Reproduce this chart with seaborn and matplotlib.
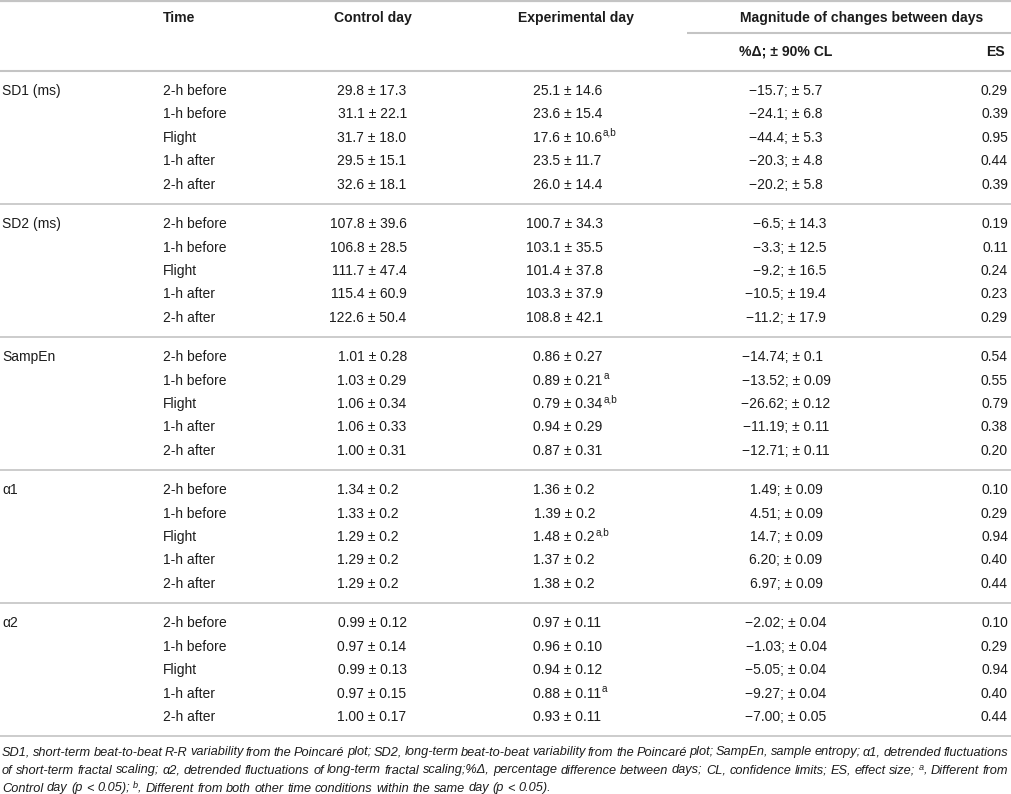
import matplotlib
matplotlib.use("Agg")
import matplotlib.pyplot as plt
import seaborn as sns

# table content
parameters = ["SD1 (ms)", "SD2 (ms)", "SampEn", "α1", "α2"]
times = ["2-h before", "1-h before", "Flight", "1-h after", "2-h after"]

control_day = [
    ["29.8 ± 17.3", "31.1 ± 22.1", "31.7 ± 18.0", "29.5 ± 15.1", "32.6 ± 18.1"],
    ["107.8 ± 39.6", "106.8 ± 28.5", "111.7 ± 47.4", "115.4 ± 60.9", "122.6 ± 50.4"],
    ["1.01 ± 0.28", "1.03 ± 0.29", "1.06 ± 0.34", "1.06 ± 0.33", "1.00 ± 0.31"],
    ["1.34 ± 0.2", "1.33 ± 0.2", "1.29 ± 0.2", "1.29 ± 0.2", "1.29 ± 0.2"],
    ["0.99 ± 0.12", "0.97 ± 0.14", "0.99 ± 0.13", "0.97 ± 0.15", "1.00 ± 0.17"],
]
experimental_day = [
    ["25.1 ± 14.6", "23.6 ± 15.4", "17.6 ± 10.6", "23.5 ± 11.7", "26.0 ± 14.4"],
    ["100.7 ± 34.3", "103.1 ± 35.5", "101.4 ± 37.8", "103.3 ± 37.9", "108.8 ± 42.1"],
    ["0.86 ± 0.27", "0.89 ± 0.21", "0.79 ± 0.34", "0.94 ± 0.29", "0.87 ± 0.31"],
    ["1.36 ± 0.2", "1.39 ± 0.2", "1.48 ± 0.2", "1.37 ± 0.2", "1.38 ± 0.2"],
    ["0.97 ± 0.11", "0.96 ± 0.10", "0.94 ± 0.12", "0.88 ± 0.11", "0.93 ± 0.11"],
]
experimental_marks = [
    ["", "", "a,b", "", ""],
    ["", "", "", "", ""],
    ["", "a", "a,b", "", ""],
    ["", "", "a,b", "", ""],
    ["", "", "", "a", ""],
]
pct_change = [
    ["−15.7", "−24.1", "−44.4", "−20.3", "−20.2"],
    ["−6.5", "−3.3", "−9.2", "−10.5", "−11.2"],
    ["−14.74", "−13.52", "−26.62", "−11.19", "−12.71"],
    ["1.49", "4.51", "14.7", "6.20", "6.97"],
    ["−2.02", "−1.03", "−5.05", "−9.27", "−7.00"],
]
pct_cl = [
    ["5.7", "6.8", "5.3", "4.8", "5.8"],
    ["14.3", "12.5", "16.5", "19.4", "17.9"],
    ["0.1", "0.09", "0.12", "0.11", "0.11"],
    ["0.09", "0.09", "0.09", "0.09", "0.09"],
    ["0.04", "0.04", "0.04", "0.04", "0.05"],
]
effect_size = [
    ["0.29", "0.39", "0.95", "0.44", "0.39"],
    ["0.19", "0.11", "0.24", "0.23", "0.29"],
    ["0.54", "0.55", "0.79", "0.38", "0.20"],
    ["0.10", "0.29", "0.94", "0.40", "0.44"],
    ["0.10", "0.29", "0.94", "0.40", "0.44"],
]
footnote = [
    "SD1, short-term beat-to-beat R-R variability from the Poincaré plot; SD2, long-term beat-to-beat "
    "variability from the Poincaré plot; SampEn, sample entropy; α1, detrended fluctuations",
    "of short-term fractal scaling; α2, detrended fluctuations of long-term fractal scaling;%Δ, "
    "percentage difference between days; CL, confidence limits; ES, effect size; ^a, Different from",
    "Control day (p < 0.05); ^b, Different from both other time conditions within the same day (p < 0.05).",
]

W, H = 1012, 794
FS = 10.0
FS_HEAD = 10.1
TXT = "#1c1c1c"
LINE = "#c4c4c4"

sns.set_theme(style="white")
plt.rcParams["font.family"] = ["Liberation Sans", "DejaVu Sans"]

fig = plt.figure(figsize=(W / 100, H / 100), dpi=100)
ax = fig.add_axes([0, 0, 1, 1])
ax.set_xlim(0, W)
ax.set_ylim(H, 0)
ax.axis("off")
renderer = fig.canvas.get_renderer()


def width(t):
    return t.get_window_extent(renderer).width


def text_w(s, **kw):
    t = ax.text(0, 0, s, fontsize=kw.pop("fontsize", FS), **kw)
    w = width(t)
    t.remove()
    return w


def put(x, y, s, ha="left", **kw):
    # y is the visual middle of the glyphs, shift to baseline
    return ax.text(x, y + 5.0, s, ha=ha, va="baseline", fontsize=kw.pop("fontsize", FS),
                   color=TXT, **kw)


def put_pm(x_pm, y, s):
    # value "m ± sd" placed so that the ± sign sits on x_pm
    mean = s.split(" ± ")[0]
    x0 = x_pm - (text_w(mean + " ±") - text_w("±") / 2)
    return put(x0, y, s)


# header
put(163, 17, "Time", fontweight="bold", fontsize=FS_HEAD)
put(334, 17, "Control day", fontweight="bold", fontsize=FS_HEAD)
put(518, 17, "Experimental day", fontweight="bold", fontsize=FS_HEAD)
put(740, 17, "Magnitude of changes between days", fontweight="bold", fontsize=FS_HEAD)
put(739, 51, "%Δ; ± 90% CL", fontweight="bold", fontsize=FS_HEAD)
put(1005, 51, "ES", ha="right", fontweight="bold", fontsize=FS_HEAD)

ax.hlines(1, 0, W, color=LINE, lw=1.6)
ax.hlines(33, 687, W, color=LINE, lw=1.5)

sec_top = 70.5
sec_h = 133.1
row_h = 23.4
ax.hlines(sec_top, 0, W, color=LINE, lw=1.5)

for i, par in enumerate(parameters):
    y0 = sec_top + sec_h * i
    ax.hlines(y0 + sec_h, 0, W, color=LINE, lw=1.2)
    rows_y = [y0 + 19.5 + row_h * j for j in range(len(times))]
    put(2, rows_y[0], par)

    # magnitude column aligned on the semicolon, block centred
    mags = [f"{pct_change[i][j]}; ± {pct_cl[i][j]}" for j in range(len(times))]
    left_w = [text_w(pct_change[i][j] + ";") for j in range(len(times))]
    full_w = [text_w(m) for m in mags]
    max_l = max(left_w)
    max_r = max(f - l for f, l in zip(full_w, left_w))
    x_semi = 786 - (max_l + max_r) / 2 + max_l

    for j, ry in enumerate(rows_y):
        put(163, ry, times[j])
        put_pm(372, ry, control_day[i][j])
        t = put_pm(568, ry, experimental_day[i][j])
        if experimental_marks[i][j]:
            bb = t.get_window_extent(renderer)
            ax.text(bb.x1 + 0.5, ry + 5.0 - 6.0, experimental_marks[i][j],
                    fontsize=FS * 0.72, color=TXT, va="baseline")
        put(x_semi - left_w[j], ry, mags[j])
        put(1008, ry, effect_size[i][j], ha="right")


# footnote, italic, justified over the full width except the last line
def foot_line(y, line, justify, size=9.2):
    words = []
    for w in line.split(" "):
        parts = []
        if w.startswith("^"):
            parts.append(ax.text(0, y - 4, w[1], fontsize=size * 0.72, style="italic",
                                 color=TXT, va="baseline"))
            w = w[2:]
        if w:
            parts.append(ax.text(0, y, w, fontsize=size, style="italic", color=TXT, va="baseline"))
        words.append(parts)
    wws = [[width(p) for p in parts] for parts in words]
    total = sum(sum(ws) for ws in wws)
    space = size * 100 / 72 * 0.278
    if justify:
        space = (1008 - 2 - total) / (len(words) - 1)
    x = 2
    for parts, ws in zip(words, wws):
        for p, wd in zip(parts, ws):
            p.set_x(x)
            x += wd
        x += space


foot_y = [756, 774, 792]
for k, line in enumerate(footnote):
    foot_line(foot_y[k] - 0.5, line, justify=k < 2)

fig.savefig("out.png", dpi=100)
